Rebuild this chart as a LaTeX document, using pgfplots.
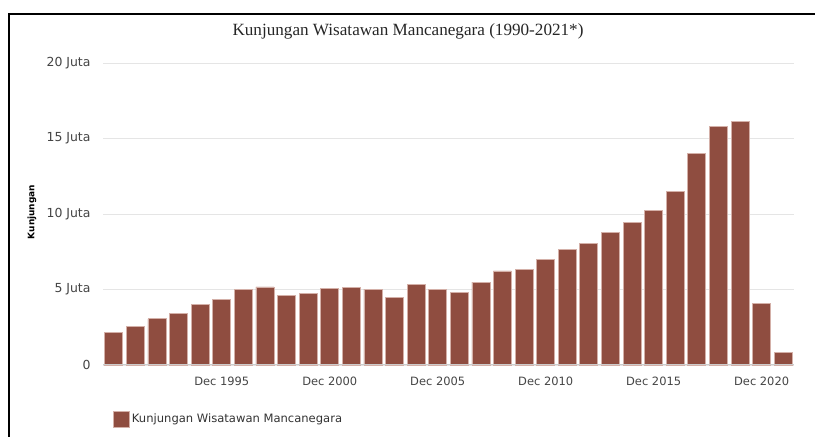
\documentclass[border=0pt]{standalone}
\usepackage{pgfplots}
\pgfplotsset{compat=1.18}
\usepackage{fontspec}
\setmainfont{DejaVu Sans}
\newfontfamily\titlefont{Liberation Serif}
\definecolor{barfill}{HTML}{8F4D40}
\definecolor{barline}{HTML}{D4B0A8}
\definecolor{ticktext}{HTML}{444444}
\begin{document}
\begin{tikzpicture}[x=1bp,y=1bp]
\useasboundingbox (0,0) rectangle (815,437);
\draw[line width=2.5bp] (9,-2) -- (9,423) -- (817,423);
\node[font=\titlefont\fontsize{17.2}{20}\selectfont, text=black!85] at (408,406) {Kunjungan Wisatawan Mancanegara (1990-2021*)};
\node[rotate=90, font=\bfseries\fontsize{9}{10}\selectfont] at (32,225) {Kunjungan};
\begin{axis}[
  at={(103bp,72bp)}, anchor=south west,
  scale only axis, width=691bp, height=302bp,
  xmin=1989.5, xmax=2021.5, ymin=0, ymax=20,
  ybar, bar width=18bp,
  axis line style={draw=none},
  major tick length=0pt,
  ymajorgrids, grid style={draw=black!10, line width=0.8bp},
  ytick={0,5,10,15,20},
  yticklabels={0,5 Juta,10 Juta,15 Juta,20 Juta},
  xtick={1995,2000,2005,2010,2015,2020},
  xticklabels={Dec 1995,Dec 2000,Dec 2005,Dec 2010,Dec 2015,Dec 2020},
  tick label style={font=\fontsize{11.5}{13}\selectfont, text=ticktext},
  yticklabel style={font=\fontsize{12.5}{14}\selectfont, xshift=-9bp},
  xticklabel style={yshift=-8bp},
  legend style={at={(rel axis cs:0,0)}, anchor=west, xshift=7bp, yshift=-54bp, draw=none, fill=none, font=\fontsize{11.6}{13}\selectfont, text=black!80},
  legend image code/.code={\draw[fill=barfill, draw=barline, line width=0.8bp] (0bp,-8bp) rectangle (16bp,8bp);},
  clip=false,
]
\addplot[fill=barfill, draw=barline, line width=0.8bp] coordinates {
(1990,2.18) (1991,2.57) (1992,3.06) (1993,3.40) (1994,4.01) (1995,4.32)
(1996,5.02) (1997,5.17) (1998,4.58) (1999,4.71) (2000,5.07) (2001,5.15)
(2002,5.02) (2003,4.45) (2004,5.33) (2005,5.01) (2006,4.83) (2007,5.49)
(2008,6.23) (2009,6.30) (2010,7.00) (2011,7.65) (2012,8.04) (2013,8.80)
(2014,9.43) (2015,10.25) (2016,11.52) (2017,14.03) (2018,15.80) (2019,16.10)
(2020,4.08) (2021,0.82)};
\addlegendentry{Kunjungan Wisatawan Mancanegara}
\draw[black!20, line width=1bp] (axis cs:1989.5,0) -- (axis cs:2021.5,0);
\end{axis}
\end{tikzpicture}
\end{document}
